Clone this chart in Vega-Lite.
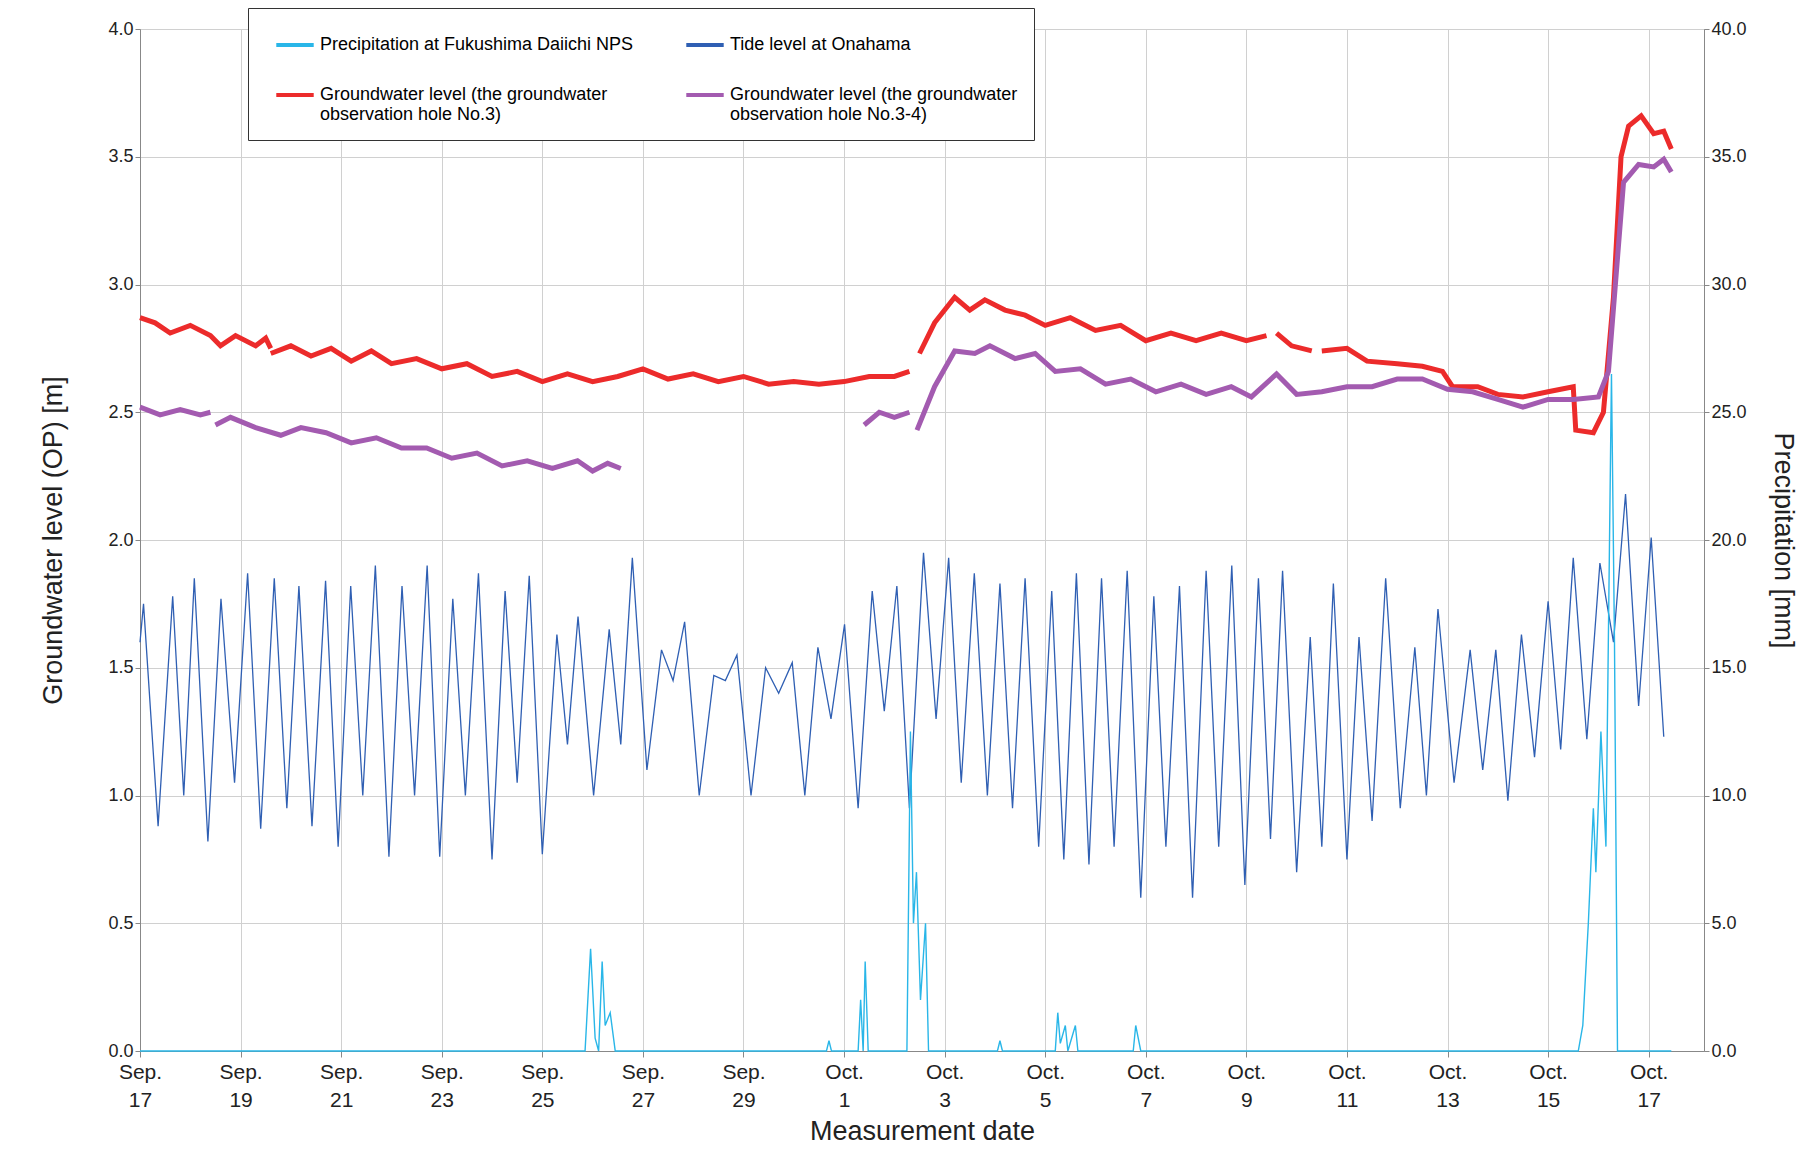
{
"$schema":"https://vega.github.io/schema/vega-lite/v6.json",
"width":1564,"height":1022,"autosize":"none",
"padding":{"left":140,"top":29,"right":114,"bottom":101},
"background":"white",
"datasets":{
"tide":[{"d":0,"v":1.6},{"d":0.07,"v":1.75},{"d":0.36,"v":0.88},{"d":0.65,"v":1.78},{"d":0.87,"v":1.0},{"d":1.08,"v":1.85},{"d":1.35,"v":0.82},{"d":1.61,"v":1.77},{"d":1.88,"v":1.05},{"d":2.14,"v":1.87},{"d":2.4,"v":0.87},{"d":2.67,"v":1.85},{"d":2.92,"v":0.95},{"d":3.16,"v":1.82},{"d":3.42,"v":0.88},{"d":3.69,"v":1.84},{"d":3.94,"v":0.8},{"d":4.19,"v":1.82},{"d":4.43,"v":1.0},{"d":4.68,"v":1.9},{"d":4.95,"v":0.76},{"d":5.21,"v":1.82},{"d":5.46,"v":1.0},{"d":5.71,"v":1.9},{"d":5.96,"v":0.76},{"d":6.22,"v":1.77},{"d":6.47,"v":1.0},{"d":6.73,"v":1.87},{"d":7.0,"v":0.75},{"d":7.26,"v":1.8},{"d":7.5,"v":1.05},{"d":7.74,"v":1.86},{"d":8.0,"v":0.77},{"d":8.29,"v":1.63},{"d":8.5,"v":1.2},{"d":8.71,"v":1.7},{"d":9.02,"v":1.0},{"d":9.33,"v":1.65},{"d":9.56,"v":1.2},{"d":9.79,"v":1.93},{"d":10.08,"v":1.1},{"d":10.37,"v":1.57},{"d":10.6,"v":1.45},{"d":10.83,"v":1.68},{"d":11.12,"v":1.0},{"d":11.41,"v":1.47},{"d":11.64,"v":1.45},{"d":11.87,"v":1.55},{"d":12.15,"v":1.0},{"d":12.44,"v":1.5},{"d":12.7,"v":1.4},{"d":12.97,"v":1.52},{"d":13.22,"v":1.0},{"d":13.48,"v":1.58},{"d":13.74,"v":1.3},{"d":14.01,"v":1.67},{"d":14.28,"v":0.95},{"d":14.56,"v":1.8},{"d":14.8,"v":1.33},{"d":15.05,"v":1.82},{"d":15.3,"v":0.95},{"d":15.58,"v":1.95},{"d":15.83,"v":1.3},{"d":16.08,"v":1.93},{"d":16.33,"v":1.05},{"d":16.59,"v":1.87},{"d":16.85,"v":1.0},{"d":17.1,"v":1.83},{"d":17.35,"v":0.95},{"d":17.6,"v":1.85},{"d":17.87,"v":0.8},{"d":18.13,"v":1.8},{"d":18.37,"v":0.75},{"d":18.62,"v":1.87},{"d":18.87,"v":0.73},{"d":19.12,"v":1.85},{"d":19.37,"v":0.8},{"d":19.63,"v":1.88},{"d":19.9,"v":0.6},{"d":20.16,"v":1.78},{"d":20.4,"v":0.8},{"d":20.67,"v":1.82},{"d":20.93,"v":0.6},{"d":21.2,"v":1.88},{"d":21.45,"v":0.8},{"d":21.71,"v":1.9},{"d":21.97,"v":0.65},{"d":22.24,"v":1.85},{"d":22.48,"v":0.83},{"d":22.72,"v":1.88},{"d":23.0,"v":0.7},{"d":23.27,"v":1.62},{"d":23.5,"v":0.8},{"d":23.73,"v":1.83},{"d":24.0,"v":0.75},{"d":24.24,"v":1.62},{"d":24.5,"v":0.9},{"d":24.77,"v":1.85},{"d":25.06,"v":0.95},{"d":25.35,"v":1.58},{"d":25.58,"v":1.0},{"d":25.81,"v":1.73},{"d":26.13,"v":1.05},{"d":26.45,"v":1.57},{"d":26.7,"v":1.1},{"d":26.96,"v":1.57},{"d":27.2,"v":0.98},{"d":27.47,"v":1.63},{"d":27.73,"v":1.15},{"d":28.0,"v":1.76},{"d":28.25,"v":1.18},{"d":28.5,"v":1.93},{"d":28.77,"v":1.22},{"d":29.03,"v":1.91},{"d":29.3,"v":1.6},{"d":29.54,"v":2.18},{"d":29.8,"v":1.35},{"d":30.05,"v":2.01},{"d":30.3,"v":1.23}],
"red":[{"d":0,"v":2.87,"g":1},{"d":0.3,"v":2.85,"g":1},{"d":0.6,"v":2.81,"g":1},{"d":1.0,"v":2.84,"g":1},{"d":1.4,"v":2.8,"g":1},{"d":1.6,"v":2.76,"g":1},{"d":1.9,"v":2.8,"g":1},{"d":2.3,"v":2.76,"g":1},{"d":2.5,"v":2.79,"g":1},{"d":2.6,"v":2.75,"g":1},{"d":2.6,"v":2.73,"g":2},{"d":3.0,"v":2.76,"g":2},{"d":3.4,"v":2.72,"g":2},{"d":3.8,"v":2.75,"g":2},{"d":4.2,"v":2.7,"g":2},{"d":4.6,"v":2.74,"g":2},{"d":5.0,"v":2.69,"g":2},{"d":5.5,"v":2.71,"g":2},{"d":6.0,"v":2.67,"g":2},{"d":6.5,"v":2.69,"g":2},{"d":7.0,"v":2.64,"g":2},{"d":7.5,"v":2.66,"g":2},{"d":8.0,"v":2.62,"g":2},{"d":8.5,"v":2.65,"g":2},{"d":9.0,"v":2.62,"g":2},{"d":9.5,"v":2.64,"g":2},{"d":10.0,"v":2.67,"g":2},{"d":10.5,"v":2.63,"g":2},{"d":11.0,"v":2.65,"g":2},{"d":11.5,"v":2.62,"g":2},{"d":12.0,"v":2.64,"g":2},{"d":12.5,"v":2.61,"g":2},{"d":13.0,"v":2.62,"g":2},{"d":13.5,"v":2.61,"g":2},{"d":14.0,"v":2.62,"g":2},{"d":14.5,"v":2.64,"g":2},{"d":15.0,"v":2.64,"g":2},{"d":15.3,"v":2.66,"g":2},{"d":15.5,"v":2.73,"g":3},{"d":15.8,"v":2.85,"g":3},{"d":16.2,"v":2.95,"g":3},{"d":16.5,"v":2.9,"g":3},{"d":16.8,"v":2.94,"g":3},{"d":17.2,"v":2.9,"g":3},{"d":17.6,"v":2.88,"g":3},{"d":18.0,"v":2.84,"g":3},{"d":18.5,"v":2.87,"g":3},{"d":19.0,"v":2.82,"g":3},{"d":19.5,"v":2.84,"g":3},{"d":20.0,"v":2.78,"g":3},{"d":20.5,"v":2.81,"g":3},{"d":21.0,"v":2.78,"g":3},{"d":21.5,"v":2.81,"g":3},{"d":22.0,"v":2.78,"g":3},{"d":22.4,"v":2.8,"g":3},{"d":22.6,"v":2.81,"g":4},{"d":22.9,"v":2.76,"g":4},{"d":23.3,"v":2.74,"g":4},{"d":23.5,"v":2.74,"g":5},{"d":24.0,"v":2.75,"g":5},{"d":24.4,"v":2.7,"g":5},{"d":25.0,"v":2.69,"g":5},{"d":25.5,"v":2.68,"g":5},{"d":25.9,"v":2.66,"g":5},{"d":26.1,"v":2.6,"g":5},{"d":26.6,"v":2.6,"g":5},{"d":27.0,"v":2.57,"g":5},{"d":27.5,"v":2.56,"g":5},{"d":28.0,"v":2.58,"g":5},{"d":28.5,"v":2.6,"g":5},{"d":28.55,"v":2.43,"g":5},{"d":28.9,"v":2.42,"g":5},{"d":29.1,"v":2.5,"g":5},{"d":29.3,"v":2.95,"g":5},{"d":29.45,"v":3.5,"g":5},{"d":29.6,"v":3.62,"g":5},{"d":29.85,"v":3.66,"g":5},{"d":30.1,"v":3.59,"g":5},{"d":30.3,"v":3.6,"g":5},{"d":30.45,"v":3.53,"g":5}],
"purple":[{"d":0,"v":2.52,"g":1},{"d":0.4,"v":2.49,"g":1},{"d":0.8,"v":2.51,"g":1},{"d":1.2,"v":2.49,"g":1},{"d":1.4,"v":2.5,"g":1},{"d":1.5,"v":2.45,"g":2},{"d":1.8,"v":2.48,"g":2},{"d":2.3,"v":2.44,"g":2},{"d":2.8,"v":2.41,"g":2},{"d":3.2,"v":2.44,"g":2},{"d":3.7,"v":2.42,"g":2},{"d":4.2,"v":2.38,"g":2},{"d":4.7,"v":2.4,"g":2},{"d":5.2,"v":2.36,"g":2},{"d":5.7,"v":2.36,"g":2},{"d":6.2,"v":2.32,"g":2},{"d":6.7,"v":2.34,"g":2},{"d":7.2,"v":2.29,"g":2},{"d":7.7,"v":2.31,"g":2},{"d":8.2,"v":2.28,"g":2},{"d":8.7,"v":2.31,"g":2},{"d":9.0,"v":2.27,"g":2},{"d":9.3,"v":2.3,"g":2},{"d":9.56,"v":2.28,"g":2},{"d":14.4,"v":2.45,"g":3},{"d":14.7,"v":2.5,"g":3},{"d":15.0,"v":2.48,"g":3},{"d":15.3,"v":2.5,"g":3},{"d":15.45,"v":2.43,"g":4},{"d":15.8,"v":2.6,"g":4},{"d":16.2,"v":2.74,"g":4},{"d":16.6,"v":2.73,"g":4},{"d":16.9,"v":2.76,"g":4},{"d":17.4,"v":2.71,"g":4},{"d":17.8,"v":2.73,"g":4},{"d":18.2,"v":2.66,"g":4},{"d":18.7,"v":2.67,"g":4},{"d":19.2,"v":2.61,"g":4},{"d":19.7,"v":2.63,"g":4},{"d":20.2,"v":2.58,"g":4},{"d":20.7,"v":2.61,"g":4},{"d":21.2,"v":2.57,"g":4},{"d":21.7,"v":2.6,"g":4},{"d":22.1,"v":2.56,"g":4},{"d":22.6,"v":2.65,"g":4},{"d":23.0,"v":2.57,"g":4},{"d":23.5,"v":2.58,"g":4},{"d":24.0,"v":2.6,"g":4},{"d":24.5,"v":2.6,"g":4},{"d":25.0,"v":2.63,"g":4},{"d":25.5,"v":2.63,"g":4},{"d":26.0,"v":2.59,"g":4},{"d":26.5,"v":2.58,"g":4},{"d":27.0,"v":2.55,"g":4},{"d":27.5,"v":2.52,"g":4},{"d":28.0,"v":2.55,"g":4},{"d":28.5,"v":2.55,"g":4},{"d":29.0,"v":2.56,"g":4},{"d":29.2,"v":2.66,"g":4},{"d":29.5,"v":3.4,"g":4},{"d":29.8,"v":3.47,"g":4},{"d":30.1,"v":3.46,"g":4},{"d":30.3,"v":3.49,"g":4},{"d":30.45,"v":3.44,"g":4}],
"rain":[{"d":0,"v":0},{"d":8.85,"v":0},{"d":8.96,"v":4.0},{"d":9.05,"v":0.5},{"d":9.12,"v":0},{"d":9.19,"v":3.5},{"d":9.25,"v":1.0},{"d":9.35,"v":1.5},{"d":9.45,"v":0},{"d":13.65,"v":0},{"d":13.7,"v":0.4},{"d":13.75,"v":0},{"d":14.28,"v":0},{"d":14.33,"v":2.0},{"d":14.38,"v":0},{"d":14.42,"v":3.5},{"d":14.48,"v":0},{"d":15.25,"v":0},{"d":15.32,"v":12.5},{"d":15.38,"v":5.0},{"d":15.44,"v":7.0},{"d":15.52,"v":2.0},{"d":15.62,"v":5.0},{"d":15.68,"v":0},{"d":17.05,"v":0},{"d":17.1,"v":0.4},{"d":17.15,"v":0},{"d":18.2,"v":0},{"d":18.25,"v":1.5},{"d":18.3,"v":0.3},{"d":18.4,"v":1.0},{"d":18.45,"v":0},{"d":18.6,"v":1.0},{"d":18.65,"v":0},{"d":19.75,"v":0},{"d":19.8,"v":1.0},{"d":19.9,"v":0},{"d":28.6,"v":0},{"d":28.69,"v":1.0},{"d":28.8,"v":5.0},{"d":28.9,"v":9.5},{"d":28.95,"v":7.0},{"d":29.05,"v":12.5},{"d":29.15,"v":8.0},{"d":29.26,"v":26.5},{"d":29.32,"v":16.0},{"d":29.38,"v":0},{"d":30.45,"v":0}]
},
"encoding":{"x":{"field":"d","type":"quantitative","scale":{"domain":[0,31.1],"nice":false,"zero":false},
"axis":{"values":[0,2,4,6,8,10,12,14,16,18,20,22,24,26,28,30],"labelExpr":"datum.value<=13 ? ['Sep.', ''+(17+datum.value)] : ['Oct.', ''+(datum.value-13)]","labelFlush":false,"labelFontSize":21,"labelLineHeight":28,"title":"Measurement date","titleFontSize":27,"titlePadding":8,"titleFontWeight":"normal","grid":true,"tickSize":6,"labelPadding":4}}},
"layer":[
{"layer":[
{"data":{"name":"tide"},"mark":{"type":"line","strokeWidth":1.3},"encoding":{"y":{"field":"v","type":"quantitative"},"color":{"datum":"Tide level at Onahama","scale":{"domain":["Precipitation at Fukushima Daiichi NPS","Tide level at Onahama","Groundwater level (the groundwater observation hole No.3)","Groundwater level (the groundwater observation hole No.3-4)"],"range":["#29b6e8","#2f5fb3","#ec2b2b","#a35bb0"]},
"legend":{"orient":"none","legendX":108,"legendY":-21,"columns":2,"direction":"horizontal","strokeColor":"#333","fillColor":"white","padding":16,"labelFontSize":18,"labelLimit":500,"labelLineHeight":24,"symbolType":"stroke","symbolSize":1400,"symbolStrokeWidth":4,"title":null,"rowPadding":20,"columnPadding":40,"symbolOffset":10,
"labelExpr":"indexof(datum.label,'Groundwater')==0 ? (indexof(datum.label,'3-4')>0 ? ['Groundwater level (the groundwater','      observation hole No.3-4)'] : ['Groundwater level (the groundwater','      observation hole No.3)']) : datum.label"}}}},
{"data":{"name":"red"},"mark":{"type":"line","strokeWidth":5},"encoding":{"y":{"field":"v","type":"quantitative"},"detail":{"field":"g"},"color":{"datum":"Groundwater level (the groundwater observation hole No.3)"}}},
{"data":{"name":"purple"},"mark":{"type":"line","strokeWidth":5},"encoding":{"y":{"field":"v","type":"quantitative","scale":{"domain":[0,4]},"axis":{"values":[0,0.5,1,1.5,2,2.5,3,3.5,4],"format":".1f","labelFontSize":18,"title":"Groundwater level (OP) [m]","titleFontSize":27,"titleFontWeight":"normal","titlePadding":40,"grid":true}},"detail":{"field":"g"},"color":{"datum":"Groundwater level (the groundwater observation hole No.3-4)"}}}
]},
{"data":{"name":"rain"},"mark":{"type":"line","strokeWidth":1.4},"encoding":{"y":{"field":"v","type":"quantitative","scale":{"domain":[0,40]},"axis":{"orient":"right","values":[0,5,10,15,20,25,30,35,40],"format":".1f","labelFontSize":18,"title":"Precipitation [mm]","titleFontSize":27,"titleFontWeight":"normal","titleAngle":90,"titlePadding":22,"grid":false}},"color":{"datum":"Precipitation at Fukushima Daiichi NPS"}}}
],
"resolve":{"scale":{"y":"independent"}},
"config":{"font":"Liberation Sans","view":{"stroke":"#888"},"axis":{"gridColor":"#d0d0d0","domainColor":"#888","tickColor":"#888","labelColor":"#222","titleColor":"#222"}}
}
